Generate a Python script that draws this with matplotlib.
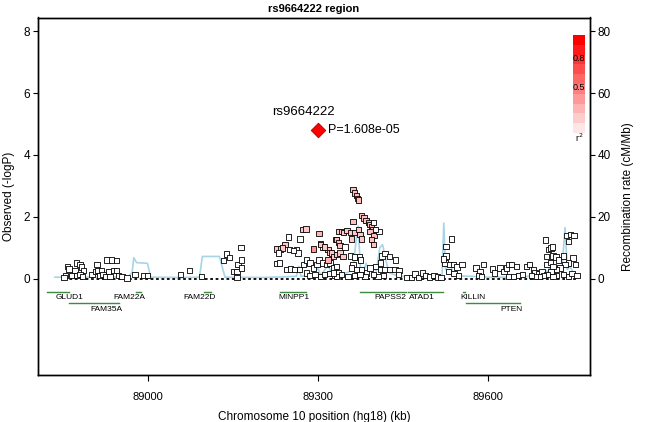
import numpy as np
import matplotlib
matplotlib.use("Agg")
from matplotlib import pyplot as plt

plt.rcParams['font.family'] = ['Liberation Sans', 'DejaVu Sans']

# SNPs: position (kb), -log10(P), r2 with the lead SNP
snp_pos = [
    88854, 88858, 88861, 88874, 88880, 88883, 88871, 88886, 88865, 88874, 88880, 88885, 88852,
    88901, 88907, 88910, 88912, 88915, 88918, 88921, 88926, 88928, 88936, 88945, 88930, 88933,
    88939, 88944, 88948, 88954, 88963, 88977, 88992, 88999,
    89057, 89073, 89095, 89133, 89139, 89144, 89152, 89157, 89159, 89164, 89165, 89165, 89157,
    89227, 89234, 89242, 89248, 89237, 89262, 89265, 89268, 89273, 89279, 89292, 89302, 89304,
    89309, 89318, 89321, 89327, 89332, 89336,
    89227, 89232, 89230, 89250, 89257, 89245, 89252, 89259, 89267, 89274, 89280, 89286, 89292,
    89298, 89302, 89309, 89315, 89321, 89327, 89333, 89280, 89286, 89295, 89304, 89312, 89321,
    89330, 89336,
    89362, 89365, 89368, 89370, 89372, 89377, 89381, 89385, 89389, 89392, 89395, 89398, 89397,
    89392, 89399, 89395, 89398, 89362, 89342, 89345, 89351, 89357, 89365, 89371, 89374, 89359,
    89377, 89408, 89401, 89333, 89336, 89339, 89348, 89304, 89312, 89324, 89327, 89318, 89333,
    89339, 89344,
    89357, 89365, 89373, 89375, 89362, 89359, 89368, 89377, 89386, 89383, 89392, 89401, 89410,
    89413, 89418, 89426, 89437, 89410, 89418, 89427, 89436, 89443, 89442, 89415, 89406, 89398,
    89374, 89365, 89353, 89342, 89333, 89327,
    89456, 89465, 89471, 89477, 89484, 89490, 89497, 89505, 89511, 89517,
    89524, 89526, 89522, 89526, 89536, 89532, 89539, 89545, 89554, 89530, 89540, 89548,
    89579, 89586, 89592, 89583, 89589, 89608, 89612, 89621, 89628, 89633, 89637, 89642, 89650,
    89636, 89645, 89654, 89661, 89668, 89673, 89680, 89683, 89689, 89695,
    89701, 89703, 89707, 89711, 89714, 89704, 89710, 89715, 89720, 89724, 89733, 89739, 89742,
    89746, 89752, 89750, 89754, 89742, 89736, 89727, 89721, 89715, 89711, 89704, 89698, 89691,
    89683, 89677, 89733, 89742, 89748, 89757, 89721, 89715,
]
snp_logp = [
    0.10, 0.40, 0.31, 0.51, 0.45, 0.38, 0.27, 0.26, 0.10, 0.10, 0.13, 0.08, 0.05,
    0.13, 0.24, 0.45, 0.26, 0.10, 0.27, 0.13, 0.08, 0.61, 0.61, 0.58, 0.24, 0.08,
    0.27, 0.27, 0.10, 0.08, 0.02, 0.13, 0.10, 0.10,
    0.13, 0.26, 0.08, 0.58, 0.80, 0.69, 0.24, 0.24, 0.45, 1.01, 0.61, 0.35, 0.04,
    0.96, 0.96, 1.10, 1.35, 0.99, 0.94, 0.83, 1.28, 1.59, 1.61, 0.96, 1.46, 1.13,
    1.03, 0.94, 0.85, 0.78, 1.26, 1.53,
    0.49, 0.51, 0.83, 0.94, 0.92, 0.29, 0.31, 0.29, 0.29, 0.45, 0.61, 0.51, 0.35,
    0.45, 0.61, 0.51, 0.45, 0.51, 0.35, 0.40, 0.18, 0.10, 0.13, 0.08, 0.13, 0.16,
    0.10, 0.18,
    2.88, 2.77, 2.68, 2.60, 2.54, 2.04, 1.96, 1.89, 1.82, 1.75, 1.67, 1.82, 1.59,
    1.53, 1.39, 1.26, 1.10, 1.85, 1.53, 1.50, 1.56, 1.50, 1.50, 1.59, 1.42, 1.28,
    1.28, 1.53, 1.59, 1.26, 1.17, 1.07, 1.03, 1.10, 1.03, 0.83, 0.72, 0.61, 0.78,
    0.83, 0.72,
    0.74, 0.70, 0.70, 0.61, 0.45, 0.35, 0.29, 0.29, 0.18, 0.08, 0.35, 0.40, 0.51,
    0.74, 0.81, 0.72, 0.61, 0.29, 0.29, 0.29, 0.29, 0.27, 0.13, 0.10, 0.08, 0.13,
    0.13, 0.10, 0.08, 0.13, 0.08, 0.18,
    0.04, 0.04, 0.15, 0.05, 0.19, 0.10, 0.06, 0.10, 0.06, 0.04,
    0.51, 0.74, 0.64, 1.05, 1.28, 0.45, 0.45, 0.38, 0.45, 0.24, 0.16, 0.10,
    0.35, 0.24, 0.45, 0.10, 0.08, 0.31, 0.18, 0.35, 0.24, 0.35, 0.45, 0.45, 0.40,
    0.08, 0.08, 0.10, 0.13, 0.40, 0.45, 0.29, 0.18, 0.16, 0.24,
    1.25, 0.72, 0.94, 0.99, 1.03, 0.45, 0.53, 0.74, 0.70, 0.61, 0.74, 1.39, 1.21,
    1.42, 1.39, 0.67, 0.45, 0.51, 0.45, 0.35, 0.29, 0.40, 0.24, 0.13, 0.10, 0.08,
    0.08, 0.10, 0.13, 0.08, 0.16, 0.10, 0.10, 0.08,
]
snp_r2 = [
    0, 0, 0, 0, 0, 0, 0, 0, 0, 0, 0, 0, 0,
    0, 0, 0, 0, 0, 0, 0, 0, 0, 0, 0, 0, 0,
    0, 0, 0, 0, 0, 0, 0, 0,
    0, 0, 0, 0, 0, 0, 0, 0, 0, 0, 0, 0, 0,
    0.22, 0.22, 0.22, 0, 0.22, 0, 0, 0, 0.22, 0.22, 0.42, 0.3, 0,
    0, 0.22, 0.22, 0.22, 0.22, 0.22,
    0, 0, 0, 0, 0, 0, 0, 0, 0, 0, 0, 0, 0,
    0, 0, 0, 0, 0, 0, 0, 0, 0, 0, 0, 0, 0,
    0, 0,
    0.25, 0.25, 0.25, 0.25, 0.25, 0.25, 0.25, 0.25, 0.25, 0.25, 0.25, 0, 0.25,
    0.25, 0.25, 0.25, 0.25, 0.25, 0.22, 0.22, 0.22, 0.22, 0.22, 0.22, 0.22, 0.22,
    0.22, 0, 0, 0.25, 0.25, 0.25, 0, 0.22, 0.22, 0.22, 0.22, 0.3, 0.22,
    0.22, 0.22,
    0, 0, 0, 0, 0, 0, 0, 0, 0, 0, 0, 0, 0,
    0, 0, 0, 0, 0, 0, 0, 0, 0, 0, 0, 0, 0,
    0, 0, 0, 0, 0, 0,
    0, 0, 0, 0, 0, 0, 0, 0, 0, 0,
    0, 0, 0, 0, 0, 0, 0, 0, 0, 0, 0, 0,
    0, 0, 0, 0, 0, 0, 0, 0, 0, 0, 0, 0, 0,
    0, 0, 0, 0, 0, 0, 0, 0, 0, 0,
    0, 0, 0, 0, 0, 0, 0, 0, 0, 0, 0, 0, 0,
    0, 0, 0, 0, 0, 0, 0, 0, 0, 0, 0, 0, 0,
    0, 0, 0, 0, 0, 0, 0, 0,
]

lead_snp = "rs9664222"
lead_pos = 89300
lead_p = 1.608e-05

# recombination rate (cM/Mb)
rec_pos = [88836, 88900, 88965, 88972, 88975, 88980, 88999, 89005, 89060, 89091,
           89096, 89126, 89136, 89200, 89240, 89262, 89266, 89270, 89290, 89300,
           89305, 89318, 89325, 89332, 89340, 89352, 89362, 89367, 89371, 89375,
           89380, 89385, 89390, 89397, 89403, 89409, 89414, 89420, 89425, 89440,
           89460, 89500, 89519, 89522, 89525, 89530, 89534, 89538, 89545, 89600,
           89650, 89690, 89700, 89706, 89710, 89716, 89722, 89730, 89736, 89740,
           89745, 89750, 89756, 89762]
rec_rate = [0.5, 0.5, 0.6, 2.0, 6.8, 5.2, 5.0, 0.5, 0.4, 0.5,
            7.2, 7.2, 0.5, 0.4, 0.6, 0.8, 4.0, 0.8, 1.0, 3.5,
            1.0, 4.5, 1.2, 4.2, 1.5, 2.0, 3.0, 12.0, 17.0, 3.0,
            2.0, 5.0, 2.0, 4.0, 2.5, 10.0, 11.0, 6.0, 2.0, 1.0,
            0.5, 0.5, 1.0, 18.0, 3.0, 5.5, 4.5, 2.0, 1.0, 0.5,
            0.5, 1.0, 3.0, 2.0, 5.0, 2.5, 4.0, 2.0, 16.5, 3.0,
            4.0, 2.0, 1.5, 0.5]

# genes
gene_names = ["GLUD1", "FAM35A", "FAM22A", "FAM22D", "MINPP1", "PAPSS2", "ATAD1", "KILLIN", "PTEN"]
gene_start = [88821, 88861, 88979, 89099, 89233, 89374, 89459, 89556, 89561]
gene_end = [88861, 88949, 88988, 89112, 89279, 89455, 89520, 89560, 89657]
gene_row = [1, 2, 1, 1, 1, 1, 1, 1, 2]
gene_label_x = [88861, 88926, 88967, 89091, 89258, 89428, 89483, 89573, 89642]

legend_ticks = [0.5, 0.8]


def r2_color(r):
    return (1.0, 1.0 - r, 1.0 - r)


W, H = 646, 422
fig = plt.figure(figsize=(W / 100, H / 100), dpi=100)
ax = fig.add_axes([38 / W, 1 - 375 / H, (590 - 38) / W, (375 - 17.5) / H])
ax2 = ax.twinx()

ylo, yhi = -3.11, 8.44
ax.set_ylim(ylo, yhi)
ax2.set_ylim(ylo * 10, yhi * 10)
ax.set_xlim(88806, 89780)

ax2.plot(rec_pos, rec_rate, color="#a6d5e6", lw=1.2, zorder=1)
ax.set_zorder(ax2.get_zorder() + 1)
ax.patch.set_visible(False)

ax.plot([min(snp_pos), max(snp_pos)], [0, 0], color="black", ls=(0, (1.5, 1.5)), lw=1.3, zorder=2)

cols = [r2_color(r) for r in snp_r2]
ax.scatter(snp_pos, snp_logp, marker="s", s=15, c=cols, edgecolors="black", linewidths=0.6, zorder=3)

lead_logp = -np.log10(lead_p)
ax.scatter([lead_pos], [lead_logp], marker="D", s=55, c="red", edgecolors="#a00000", linewidths=0.6, zorder=4)
ax.text(lead_pos - 25, lead_logp + 0.6, lead_snp, ha="center", va="center", fontsize=9.5)
ax.text(lead_pos + 18, lead_logp, "P=%.3e" % lead_p, ha="left", va="center", fontsize=9)

# gene track
row_y = {1: -0.42, 2: -0.78}
for name, s, e, r, lx in zip(gene_names, gene_start, gene_end, gene_row, gene_label_x):
    ax.plot([s, e], [row_y[r], row_y[r]], color="#3d8b3d", lw=1.0, zorder=2)
    ax.text(lx, row_y[r] - 0.2, name, ha="center", va="center", fontsize=6)

ax.set_yticks([0, 2, 4, 6, 8])
ax2.set_yticks([0, 20, 40, 60, 80])
ax.set_xticks([89000, 89300, 89600])
for a in (ax, ax2):
    a.tick_params(direction="out", length=3.5, width=0.8, pad=2, labelsize=8.5)
    for sp in a.spines.values():
        sp.set_linewidth(1.0)
ax.tick_params(axis="x", labelsize=8, length=4, pad=8)
ax.set_xlabel("Chromosome 10 position (hg18) (kb)", fontsize=8.5, labelpad=7)
ax.set_ylabel("Observed (-logP)", fontsize=8.5, labelpad=6)
ax2.set_ylabel("Recombination rate (cM/Mb)", fontsize=8.5, labelpad=8)
ax.set_title("rs9664222 region", fontsize=8, fontweight="bold", pad=4)

# r2 legend bar
lax = fig.add_axes([573 / W, 1 - 133 / H, 12 / W, 98 / H])
levels = np.arange(1, 11) / 10
lax.bar(np.zeros(10), np.full(10, 0.1), bottom=levels - 0.1, width=1,
        color=[r2_color(v) for v in levels], edgecolor="none")
lax.set_xlim(-0.5, 0.5)
lax.set_ylim(0, 1)
lax.axis("off")
for t in legend_ticks:
    lax.text(0, t - 0.035, str(t), ha="center", va="center", fontsize=6.5)
lax.text(0, -0.05, "r$^2$", ha="center", va="center", fontsize=6.5)

fig.savefig("out.png", dpi=100)
